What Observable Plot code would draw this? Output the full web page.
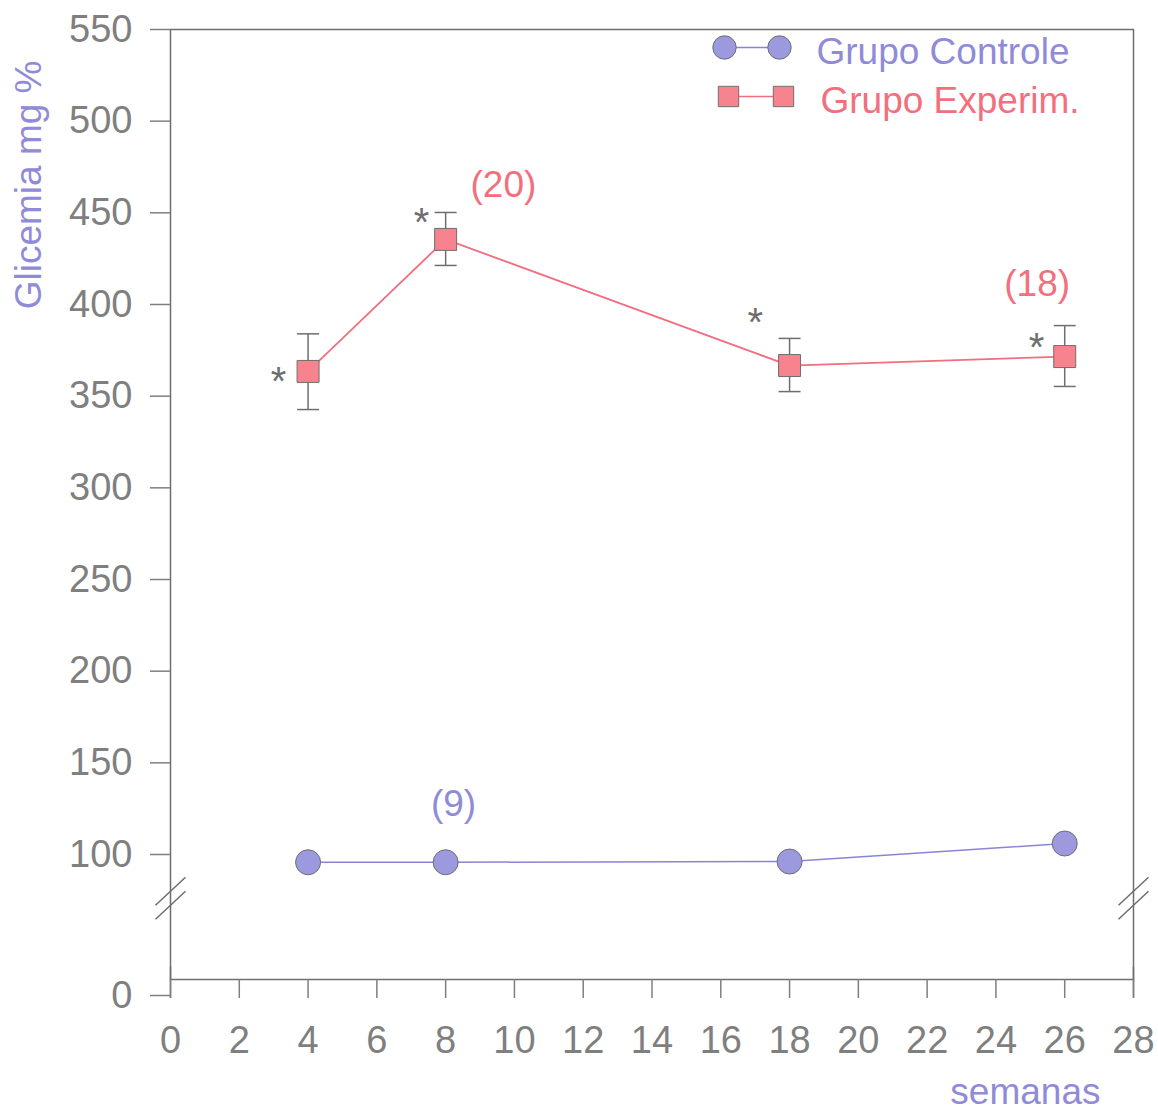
<!DOCTYPE html>
<html><head><meta charset="utf-8">
<script src="https://cdn.jsdelivr.net/npm/d3@7"></script>
<script src="https://cdn.jsdelivr.net/npm/@observablehq/plot@0.6"></script>
<style>body{margin:0;background:#fff}</style>
</head><body><div id="chart"></div>
<script>
// ---- data ----
const weeks = [4, 8, 18, 26];
const controlMean = [94.5, 94.5, 95, 106];
const expMean = [363.5, 435.5, 366.7, 371.6];
const expHigh = [384, 450.2, 381.5, 388.5];
const expLow = [342.7, 421.3, 352.5, 355.3];
const yTicks = [0, 100, 150, 200, 250, 300, 350, 400, 450, 500, 550];
const xTicks = [0, 2, 4, 6, 8, 10, 12, 14, 16, 18, 20, 22, 24, 26, 28];
const seriesNames = ["Grupo Controle", "Grupo Experim."];
const countLabels = [
  {text: "(20)", x: 9.68, y: 465, series: 1},
  {text: "(18)", x: 25.2, y: 411, series: 1},
  {text: "(9)", x: 8.23, y: 127.3, series: 0}
];
const stars = [{x: 3.14, y: 362.9}, {x: 7.3, y: 449.6}, {x: 17.0, y: 395.1}, {x: 25.18, y: 381.5}];
const yLabel = "Glicemia mg %";
const xLabel = "semanas";
const breakAt = 69;

// ---- build ----
const ctrl = weeks.map((w, i) => ({week: w, value: controlMean[i]}));
const exp = weeks.map((w, i) => ({week: w, value: expMean[i], lo: expLow[i], hi: expHigh[i]}));

const gray = "#6e6e6e", textGray = "#7f7f7f";
const purpleFill = "#9c99df", purpleLine = "#8985d6", purpleText = "#8f8bd9";
const pinkFill = "#f7838f", pinkLine = "#f26d7d", pinkText = "#f2707d";
const fills = [purpleFill, pinkFill], lines = [purpleLine, pinkLine], texts = [purpleText, pinkText];

const capSymbol = {draw(c) { c.moveTo(-11, 0); c.lineTo(11, 0); }};
const breakSymbol = {draw(c) { c.moveTo(-15, 7); c.lineTo(15, -21); c.moveTo(-15, 21); c.lineTo(15, -7); }};
const legendLine = {draw(c) { c.moveTo(-28, 0); c.lineTo(28, 0); }};

const legendMarks = seriesNames.flatMap((name, i) => {
  const dy = 18 + 49 * i;
  const dx0 = -409 + 4 * i;
  const sym = i === 0 ? "circle" : "square";
  const r = i === 0 ? 11.7 : 11.5;
  return [
    Plot.dot([0], {frameAnchor: "top-right", dx: dx0 + 27.5, dy, symbol: legendLine, stroke: lines[i], strokeWidth: 1.5, fill: "none"}),
    Plot.dot([0], {frameAnchor: "top-right", dx: dx0, dy, symbol: sym, r, fill: fills[i], stroke: gray, strokeWidth: 1}),
    Plot.dot([0], {frameAnchor: "top-right", dx: dx0 + 55, dy, symbol: sym, r, fill: fills[i], stroke: gray, strokeWidth: 1}),
    Plot.text([name], {frameAnchor: "top-right", dx: dx0 + 92, dy: dy + 5, text: d => d, textAnchor: "start", lineAnchor: "middle", fill: texts[i], fontSize: 37})
  ];
});

const plot = Plot.plot({
  width: 1158, height: 1113,
  marginLeft: 170, marginRight: 25, marginTop: 29, marginBottom: 134,
  style: {fontFamily: "'Liberation Sans', Arial, sans-serif", fontSize: "38px", color: gray, background: "#fff"},
  x: {domain: [0, 28]},
  y: {type: "linear", domain: [0, 100, 550], range: [995, 854, 29]},
  marks: [
    Plot.frame({stroke: gray, strokeWidth: 1.5}),
    Plot.ruleX([0, 28], {y1: -2, y2: 20, stroke: gray, strokeWidth: 1.5}),
    Plot.axisY({ticks: yTicks, tickSize: 20, tickPadding: 18, label: null, color: textGray, strokeWidth: 1.5, fontSize: 38}),
    Plot.axisX({ticks: xTicks, tickSize: 19, tickPadding: 28, label: null, color: textGray, strokeWidth: 1.5, fontSize: 38}),
    Plot.dot([0, 28], {x: d => d, y: () => breakAt, symbol: breakSymbol, stroke: gray, fill: "none", strokeWidth: 1.5}),
    Plot.line(ctrl, {x: "week", y: "value", stroke: purpleLine, strokeWidth: 1.5}),
    Plot.line(exp, {x: "week", y: "value", stroke: pinkLine, strokeWidth: 1.8}),
    Plot.ruleX(exp, {x: "week", y1: "lo", y2: "hi", stroke: gray, strokeWidth: 1.5}),
    Plot.dot(exp, {x: "week", y: "hi", symbol: capSymbol, stroke: gray, fill: "none", strokeWidth: 1.5}),
    Plot.dot(exp, {x: "week", y: "lo", symbol: capSymbol, stroke: gray, fill: "none", strokeWidth: 1.5}),
    Plot.dot(ctrl, {x: "week", y: "value", r: 12.5, fill: purpleFill, stroke: gray, strokeWidth: 1}),
    Plot.dot(exp, {x: "week", y: "value", symbol: "square", r: 12.4, fill: pinkFill, stroke: gray, strokeWidth: 1}),
    Plot.text(stars, {x: "x", y: "y", text: () => "*", fill: gray, fontSize: 40, dy: 10}),
    Plot.text(countLabels, {x: "x", y: "y", text: "text", fill: d => texts[d.series], fontSize: 37}),
    Plot.text([yLabel], {frameAnchor: "top-left", dx: -141, dy: 31, rotate: -90, textAnchor: "end", lineAnchor: "middle", text: d => d, fill: purpleText, fontSize: 37}),
    Plot.text([xLabel], {frameAnchor: "bottom-right", dx: -33, dy: 113, textAnchor: "end", lineAnchor: "middle", text: d => d, fill: purpleText, fontSize: 37}),
    ...legendMarks
  ]
});
document.getElementById("chart").appendChild(plot);
</script>
</body></html>
